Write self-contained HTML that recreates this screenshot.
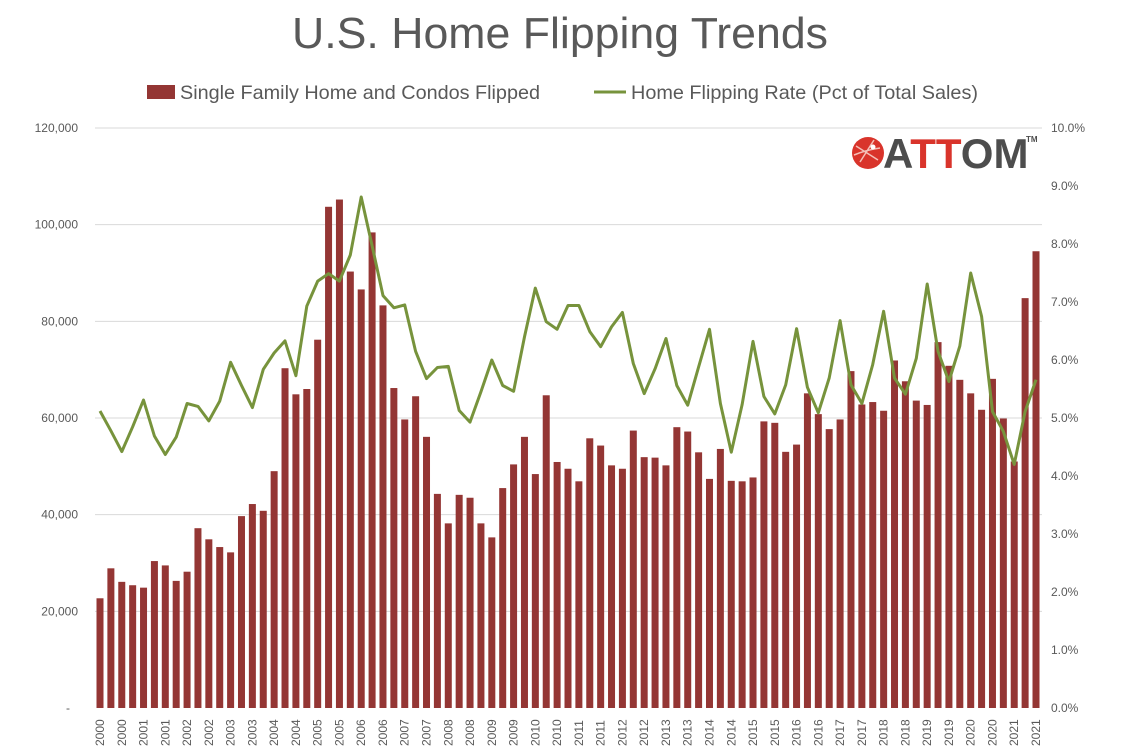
<!DOCTYPE html>
<html><head><meta charset="utf-8"><style>
html,body{margin:0;padding:0;background:#fff;}
svg{display:block;font-family:"Liberation Sans",sans-serif;}
</style></head><body>
<svg id="c" width="1131" height="750" xmlns="http://www.w3.org/2000/svg">
<text x="560" y="48" text-anchor="middle" font-size="44" fill="#595959" textLength="536" lengthAdjust="spacingAndGlyphs">U.S. Home Flipping Trends</text>
<rect x="147" y="85" width="28" height="14" fill="#943634"/>
<text x="180" y="99" font-size="19.5" fill="#595959" textLength="360" lengthAdjust="spacingAndGlyphs">Single Family Home and Condos Flipped</text>
<line x1="594" y1="92" x2="626" y2="92" stroke="#77933C" stroke-width="3"/>
<text x="631" y="99" font-size="19.5" fill="#595959" textLength="347" lengthAdjust="spacingAndGlyphs">Home Flipping Rate (Pct of Total Sales)</text>
<g id="grid"></g><g id="bars"></g><g id="line"></g><g id="labels"></g>
<g>
<circle cx="868" cy="153" r="16" fill="#d9342b"/>
<path d="M856 146 L878 160 M860 162 L874 140 M854 155 Q866 150 880 148" stroke="#f4c0b8" stroke-width="1.5" fill="none"/>
<circle cx="873" cy="147" r="2.5" fill="#fff"/>
<text x="883" y="168" font-size="42" font-weight="bold" fill="#4d4d4d">A<tspan fill="#d9342b">TT</tspan>OM</text>
<text x="1026" y="142" font-size="8" font-weight="bold" fill="#4d4d4d">TM</text>
</g>
</svg>
<script>
var bars=[22.7,28.9,26.1,25.4,24.9,30.4,29.5,26.3,28.2,37.2,34.9,33.3,32.2,39.7,42.2,40.8,49.0,70.3,64.9,66.0,76.2,103.7,105.2,90.3,86.6,98.4,83.3,66.2,59.7,64.5,56.1,44.3,38.2,44.1,43.5,38.2,35.3,45.5,50.4,56.1,48.4,64.7,50.9,49.5,46.9,55.8,54.3,50.2,49.5,57.4,51.9,51.8,50.2,58.1,57.2,52.9,47.4,53.6,47.0,46.9,47.7,59.3,59.0,53.0,54.5,65.1,60.8,57.7,59.7,69.7,62.8,63.3,61.5,71.9,67.6,63.6,62.7,75.7,70.8,67.9,65.1,61.7,68.1,59.9,51.0,84.8,94.5];
var rate=[5.12,4.78,4.42,4.85,5.31,4.69,4.37,4.67,5.25,5.2,4.95,5.29,5.96,5.56,5.18,5.84,6.12,6.33,5.73,6.93,7.36,7.49,7.36,7.81,8.81,7.97,7.11,6.9,6.95,6.15,5.68,5.87,5.89,5.13,4.93,5.45,6.0,5.56,5.46,6.4,7.24,6.66,6.53,6.94,6.94,6.49,6.23,6.57,6.82,5.94,5.42,5.85,6.37,5.56,5.22,5.88,6.53,5.25,4.41,5.23,6.32,5.37,5.07,5.57,6.54,5.53,5.09,5.69,6.68,5.57,5.25,5.92,6.84,5.69,5.41,6.03,7.31,6.15,5.63,6.24,7.5,6.75,5.11,4.77,4.2,5.11,5.66];
var NS="http://www.w3.org/2000/svg";
function el(t,a,p,txt){var e=document.createElementNS(NS,t);for(var k in a)e.setAttribute(k,a[k]);if(txt!==undefined)e.textContent=txt;document.getElementById(p).appendChild(e);return e;}
var base=708,sc=580/120;
var L=["-","20,000","40,000","60,000","80,000","100,000","120,000"];
for(var i=0;i<=6;i++){var y=base-i*20*sc;
 if(i>0)el("line",{x1:95,x2:1042,y1:y,y2:y,stroke:"#d9d9d9","stroke-width":1},"grid");
 el("text",{x:i==0?70:78,y:y+4,"text-anchor":"end","font-size":12,fill:"#595959"},"grid",L[i]);}
for(var i=0;i<=10;i++){var y=base-i*58;el("text",{x:1051,y:y+4,"font-size":12,fill:"#595959"},"grid",i.toFixed(1)+"%");}
var dx=936/86,pts=[];
for(var i=0;i<bars.length;i++){var x=100+i*dx;
 var h=bars[i]*sc;el("rect",{x:x-3.5,y:base-h,width:7,height:h,fill:"#943634"},"bars");
 pts.push(x.toFixed(1)+","+(base-rate[i]*58).toFixed(1));
 if(i%2==0){var yr=2000+Math.floor(i/4);el("text",{x:0,y:0,transform:"translate("+(x+4)+",746) rotate(-90)","font-size":12,fill:"#595959"},"labels",""+yr);}}
el("polyline",{points:pts.join(" "),fill:"none",stroke:"#77933C","stroke-width":3,"stroke-linejoin":"round"},"line");
</script>
</body></html>
